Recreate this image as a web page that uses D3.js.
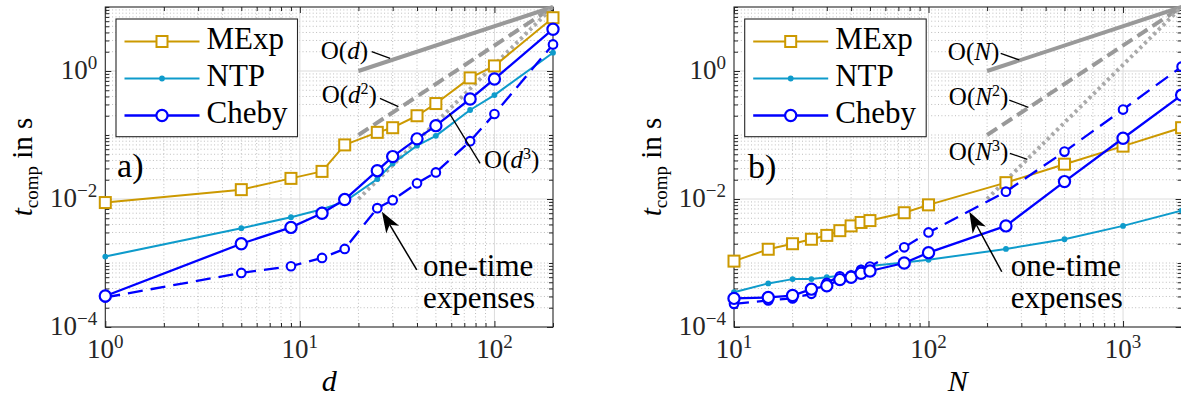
<!DOCTYPE html>
<html>
<head>
<meta charset="utf-8">
<script src="https://cdn.jsdelivr.net/npm/d3@7"></script>
<style>
  html, body { margin: 0; padding: 0; background: #fff; }
  svg, svg text {
    font-family: "Liberation Serif", "DejaVu Serif", "Noto Serif", "Noto Serif CJK SC", "Tinos",
                 "Times New Roman", "Times", "Nimbus Roman", "FreeSerif", "Noto Sans CJK SC", serif;
  }
</style>
</head>
<body>
<svg id="chart" width="1181" height="396"></svg>
<script>
// ---------- panel a): runtime versus dimension d ----------
const dValues      = [1, 5, 9, 13, 17, 25, 30, 40, 50, 75, 100, 200];
const mexpByD      = [0.0088, 0.014, 0.021, 0.027, 0.07, 0.11, 0.13, 0.2, 0.31, 0.78, 1.2, 6.8];
const ntpByD       = [0.00126, 0.0035, 0.0052, 0.0069, 0.0091, 0.0205, 0.036, 0.068, 0.097, 0.246, 0.42, 1.93];
const chebyByD     = [0.000305, 0.002, 0.0036, 0.006, 0.0098, 0.0277, 0.046, 0.087, 0.14, 0.365, 0.75, 4.5];
const chebyPreByD  = [0.00029, 0.0007, 0.00089, 0.0012, 0.00166, 0.0072, 0.0096, 0.0176, 0.026, 0.08, 0.213, 2.6];

// ---------- panel b): runtime versus number of nodes N ----------
const nValues      = [10, 15, 20, 25, 30, 35, 40, 45, 50, 75, 100, 250, 500, 1000, 2000];
const mexpByN      = [0.00107, 0.00164, 0.002, 0.00235, 0.0027, 0.0032, 0.0038, 0.0043, 0.0046, 0.0061, 0.0081, 0.018, 0.035, 0.067, 0.13];
const ntpByN       = [0.00035, 0.00048, 0.00056, 0.00056, 0.0006, 0.00063, 0.00066, 0.00085, 0.0009, 0.00102, 0.00112, 0.00166, 0.00235, 0.0038, 0.0066];
const chebyByN     = [0.00028, 0.00029, 0.00031, 0.00039, 0.00044, 0.00055, 0.0006, 0.00069, 0.00075, 0.001, 0.00145, 0.0038, 0.0187, 0.089, 0.42];
const chebyPreByN  = [0.00023, 0.00026, 0.00028, 0.00033, 0.00049, 0.00062, 0.00064, 0.00078, 0.00088, 0.00176, 0.003, 0.013, 0.055, 0.25, 1.17];

// ---------- complexity guide lines (endpoints) ----------
const guideD   = [20, 200];
const guideN   = [200, 2000];
const orderOne   = [1, 10];
const orderTwo   = [0.1, 10];
const orderThree = [0.01, 10];

// ---------- axes ----------
const yDomain     = [1e-4, 10];
const yMajorTicks = [1e-4, 1e-2, 1];
const dDomain     = [1, 200];
const dMajorTicks = [1, 10, 100];
const nDomain     = [10, 2000];
const nMajorTicks = [10, 100, 1000];

const seriesNames = ["MExp", "NTP", "Cheby"];

const COL = {
  mexp: "#CC9900",
  ntp: "#0E9BCB",
  cheby: "#0000FF",
  guide: "#999999",
  guideDot: "#AAAAAA",
  axis: "#262626",
  gridMajor: "#DCDCDC",
  gridMinor: "#BDBDBD"
};

const plotTop = 7, plotBottom = 327;
const svg = d3.select("#chart");
svg.append("rect").attr("width", 1181).attr("height", 396).attr("fill", "#fff");

function minorValues(domain, majors) {
  const out = [];
  const e0 = Math.floor(Math.log10(domain[0])), e1 = Math.ceil(Math.log10(domain[1]));
  for (let e = e0; e <= e1; e++) {
    for (let k = 1; k <= 9; k++) {
      const v = Number((k * Math.pow(10, e)).toPrecision(6));
      if (v >= domain[0] * 0.9999 && v <= domain[1] * 1.0001 &&
          !majors.some(m => Math.abs(m - v) / v < 1e-6)) out.push(v);
    }
  }
  return out;
}

function expString(v) {
  const e = Math.round(Math.log10(v));
  return e < 0 ? "\u2212" + Math.abs(e) : String(e);
}

function txt(parent) {
  return parent.append("text").attr("fill", "#000");
}

// "10" with a raised exponent
function powerLabel(sel, v, size, supSize, lift) {
  sel.attr("font-size", size);
  sel.append("tspan").text("10");
  sel.append("tspan").attr("font-size", supSize).attr("dy", -lift).text(expString(v));
}

// O(x^p) label: "O(" italic var, optional superscript, ")"
function orderLabel(sel, variable, power) {
  sel.append("tspan").text("O(");
  sel.append("tspan").attr("font-style", "italic").text(variable);
  if (power) {
    sel.append("tspan").attr("font-size", 16).attr("dy", -9).text(power);
    sel.append("tspan").attr("dy", 9).text(")");
  } else {
    sel.append("tspan").text(")");
  }
}

function drawPanel(cfg) {
  const x = d3.scaleLog().domain(cfg.xDomain).range([cfg.x0, cfg.x1]);
  const y = d3.scaleLog().domain(yDomain).range([plotBottom, plotTop]);
  const g = svg.append("g");

  const xMinor = minorValues(cfg.xDomain, cfg.xMajor);
  const yMinor = minorValues(yDomain, yMajorTicks);
  const inside = (v, dom) => v > dom[0] * 1.0001 && v < dom[1] * 0.9999;

  // grid
  const grid = g.append("g");
  grid.selectAll(".gxm").data(xMinor.filter(v => inside(v, cfg.xDomain))).join("line")
    .attr("x1", d => x(d)).attr("x2", d => x(d)).attr("y1", plotTop).attr("y2", plotBottom)
    .attr("stroke", COL.gridMinor).attr("stroke-width", 1).attr("stroke-dasharray", "1,2.4");
  grid.selectAll(".gym").data(yMinor.filter(v => inside(v, yDomain))).join("line")
    .attr("y1", d => y(d)).attr("y2", d => y(d)).attr("x1", cfg.x0).attr("x2", cfg.x1)
    .attr("stroke", COL.gridMinor).attr("stroke-width", 1).attr("stroke-dasharray", "1,2.4");
  grid.selectAll(".gxM").data(cfg.xMajor.filter(v => inside(v, cfg.xDomain))).join("line")
    .attr("x1", d => x(d)).attr("x2", d => x(d)).attr("y1", plotTop).attr("y2", plotBottom)
    .attr("stroke", COL.gridMajor).attr("stroke-width", 1);
  grid.selectAll(".gyM").data(yMajorTicks.filter(v => inside(v, yDomain))).join("line")
    .attr("y1", d => y(d)).attr("y2", d => y(d)).attr("x1", cfg.x0).attr("x2", cfg.x1)
    .attr("stroke", COL.gridMajor).attr("stroke-width", 1);

  // ticks on all four sides, pointing inward
  function tickSet(gen, values, size, transform) {
    const a = g.append("g").attr("transform", transform)
      .call(gen.tickValues(values).tickSize(size).tickSizeOuter(0).tickFormat(""));
    a.select(".domain").remove();
    a.selectAll("line").attr("stroke", COL.axis).attr("stroke-width", 1);
    a.selectAll("text").remove();
  }
  [[cfg.xMajor, 6], [xMinor, 4]].forEach(([vals, s]) => {
    tickSet(d3.axisBottom(x), vals, -s, `translate(0,${plotBottom})`);
    tickSet(d3.axisTop(x), vals, -s, `translate(0,${plotTop})`);
  });
  [[yMajorTicks, 6], [yMinor, 4]].forEach(([vals, s]) => {
    tickSet(d3.axisLeft(y), vals, -s, `translate(${cfg.x0},0)`);
    tickSet(d3.axisRight(y), vals, -s, `translate(${cfg.x1},0)`);
  });

  // box
  g.append("rect").attr("x", cfg.x0).attr("y", plotTop)
    .attr("width", cfg.x1 - cfg.x0).attr("height", plotBottom - plotTop)
    .attr("fill", "none").attr("stroke", COL.axis).attr("stroke-width", 1.1);

  // tick labels
  cfg.xMajor.forEach(v => {
    txt(g).attr("x", x(v)).attr("y", 358).attr("text-anchor", "middle")
      .attr("fill", COL.axis).call(s => powerLabel(s, v, 27, 19, 10));
  });
  yMajorTicks.forEach(v => {
    txt(g).attr("x", cfg.x0 - 8).attr("y", y(v) + 7.5).attr("text-anchor", "end")
      .attr("fill", COL.axis).call(s => powerLabel(s, v, 27, 19, 10));
  });

  // axis titles
  const yl = txt(g).attr("transform", `translate(${cfg.x0 - 73},${(plotTop + plotBottom) / 2}) rotate(-90)`)
    .attr("text-anchor", "middle").attr("font-size", 29);
  yl.append("tspan").attr("font-style", "italic").text("t");
  yl.append("tspan").attr("font-size", 19).attr("dy", 6).text("comp");
  yl.append("tspan").attr("dy", -6).text(" in s");

  txt(g).attr("x", (cfg.x0 + cfg.x1) / 2).attr("y", 391).attr("text-anchor", "middle")
    .attr("font-size", 30).attr("font-style", "italic").text(cfg.xTitle);

  // guide lines
  const line = d3.line().x(d => x(d[0])).y(d => y(d[1]));
  const guides = [
    { v: orderOne, dash: null, col: COL.guide },
    { v: orderTwo, dash: "12,6", col: COL.guide },
    { v: orderThree, dash: "3,3.5", col: COL.guideDot }
  ];
  guides.forEach(gd => {
    g.append("path").attr("d", line(d3.zip(cfg.guideX, gd.v)))
      .attr("fill", "none").attr("stroke", gd.col).attr("stroke-width", 4)
      .attr("stroke-dasharray", gd.dash);
  });

  // data series
  const series = [
    { xs: cfg.xs, ys: cfg.mexp, col: COL.mexp, w: 2, dash: null, marker: "square" },
    { xs: cfg.xs, ys: cfg.ntp, col: COL.ntp, w: 2, dash: null, marker: "dot" },
    { xs: cfg.xs, ys: cfg.chebyPre, col: COL.cheby, w: 2.3, dash: "15,8", marker: "small" },
    { xs: cfg.xs, ys: cfg.cheby, col: COL.cheby, w: 2.3, dash: null, marker: "circle" }
  ];
  series.forEach(s => {
    const pts = d3.zip(s.xs, s.ys);
    g.append("path").attr("d", line(pts)).attr("fill", "none")
      .attr("stroke", s.col).attr("stroke-width", s.w).attr("stroke-dasharray", s.dash)
      .attr("stroke-linejoin", "round");
    drawMarkers(g, pts.map(p => [x(p[0]), y(p[1])]), s.marker, s.col);
  });

  // legend
  const lx = cfg.x0 + 10.7, ly = 19, lw = 181.5, lh = 117.7;
  const lg = g.append("g");
  lg.append("rect").attr("x", lx).attr("y", ly).attr("width", lw).attr("height", lh)
    .attr("fill", "#fff").attr("stroke", COL.axis).attr("stroke-width", 1.1);
  const legendItems = [
    { col: COL.mexp, w: 2, marker: "square" },
    { col: COL.ntp, w: 2, marker: "dot" },
    { col: COL.cheby, w: 2.3, marker: "circle" }
  ];
  legendItems.forEach((it, i) => {
    const ry = 41.5 + i * 37;
    lg.append("line").attr("x1", lx + 8.5).attr("x2", lx + 83.5).attr("y1", ry).attr("y2", ry)
      .attr("stroke", it.col).attr("stroke-width", it.w);
    drawMarkers(lg, [[lx + 46, ry]], it.marker, it.col);
    txt(lg).attr("x", lx + 90.5).attr("y", ry + 7.5).attr("font-size", 31).text(seriesNames[i]);
  });

  // panel tag
  txt(g).attr("x", x(cfg.tag.at[0])).attr("y", y(cfg.tag.at[1]))
    .attr("font-size", 34).text(cfg.tag.text);

  // guide labels with leader lines
  cfg.guideLabels.forEach(gl => {
    g.append("line").attr("x1", x(gl.lead[0][0])).attr("y1", y(gl.lead[0][1]))
      .attr("x2", x(gl.lead[1][0])).attr("y2", y(gl.lead[1][1]))
      .attr("stroke", "#000").attr("stroke-width", 1.3);
    txt(g).attr("x", x(gl.at[0])).attr("y", y(gl.at[1]))
      .attr("text-anchor", gl.anchor).attr("font-size", 25)
      .call(s => orderLabel(s, cfg.variable, gl.power));
  });

  // annotation arrow
  const tip = [x(cfg.arrow.tip[0]), y(cfg.arrow.tip[1])];
  const tail = [x(cfg.arrow.tail[0]), y(cfg.arrow.tail[1])];
  const dx = tip[0] - tail[0], dy = tip[1] - tail[1];
  const len = Math.hypot(dx, dy), ux = dx / len, uy = dy / len, px = -uy, py = ux;
  const L = 21, W = 7.5;
  const notch = [tip[0] - ux * L * 0.72, tip[1] - uy * L * 0.72];
  g.append("line").attr("x1", tail[0]).attr("y1", tail[1]).attr("x2", notch[0]).attr("y2", notch[1])
    .attr("stroke", "#000").attr("stroke-width", 1.5);
  g.append("path").attr("d", d3.line()([
    tip,
    [tip[0] - ux * L + px * W, tip[1] - uy * L + py * W],
    notch,
    [tip[0] - ux * L - px * W, tip[1] - uy * L - py * W]
  ]) + "Z").attr("fill", "#000");
  const at = [x(cfg.arrow.text[0]), y(cfg.arrow.text[1])];
  txt(g).attr("x", at[0]).attr("y", at[1]).attr("font-size", 31).text("one-time");
  txt(g).attr("x", at[0]).attr("y", at[1] + 32).attr("font-size", 31).text("expenses");
}

function drawMarkers(g, pts, kind, col) {
  pts.forEach(([cx, cy]) => {
    if (kind === "square") {
      g.append("rect").attr("x", cx - 5.5).attr("y", cy - 5.5).attr("width", 11).attr("height", 11)
        .attr("fill", "#fff").attr("stroke", col).attr("stroke-width", 2);
    } else if (kind === "dot") {
      g.append("circle").attr("cx", cx).attr("cy", cy).attr("r", 2.9).attr("fill", col);
    } else if (kind === "circle") {
      g.append("circle").attr("cx", cx).attr("cy", cy).attr("r", 5.6)
        .attr("fill", "#fff").attr("stroke", col).attr("stroke-width", 2.2);
    } else if (kind === "small") {
      g.append("circle").attr("cx", cx).attr("cy", cy).attr("r", 4.3)
        .attr("fill", "#fff").attr("stroke", col).attr("stroke-width", 2.1);
    }
  });
}

drawPanel({
  x0: 105.3, x1: 553, xDomain: dDomain, xMajor: dMajorTicks, xTitle: "d", variable: "d",
  xs: dValues, mexp: mexpByD, ntp: ntpByD, cheby: chebyByD, chebyPre: chebyPreByD,
  guideX: guideD,
  tag: { text: "a)", at: [1.15, 0.0221] },
  guideLabels: [
    { power: null, at: [22.4, 1.54], anchor: "end", lead: [[23.4, 2.0], [29.1, 1.58]] },
    { power: "2", at: [24.9, 0.316], anchor: "end", lead: [[25.8, 0.374], [32.1, 0.277]] },
    { power: "3", at: [88.5, 0.0305], anchor: "start", lead: [[58.7, 0.218], [84.4, 0.0361]] }
  ],
  arrow: { tip: [26.4, 0.00633], tail: [39.9, 0.00078], text: [43, 0.000626] }
});

drawPanel({
  x0: 734, x1: 1181.6, xDomain: nDomain, xMajor: nMajorTicks, xTitle: "N", variable: "N",
  xs: nValues, mexp: mexpByN, ntp: ntpByN, cheby: chebyByN, chebyPre: chebyPreByN,
  guideX: guideN,
  tag: { text: "b)", at: [11.8, 0.0213] },
  guideLabels: [
    { power: null, at: [231, 1.49], anchor: "end", lead: [[235, 1.89], [293, 1.49]] },
    { power: "2", at: [257, 0.294], anchor: "end", lead: [[260, 0.352], [326, 0.271]] },
    { power: "3", at: [257, 0.0407], anchor: "end", lead: [[262, 0.0518], [322, 0.0417]] }
  ],
  arrow: { tip: [162, 0.00633], tail: [238, 0.00073], text: [265, 0.000626] }
});
</script>
</body>
</html>
